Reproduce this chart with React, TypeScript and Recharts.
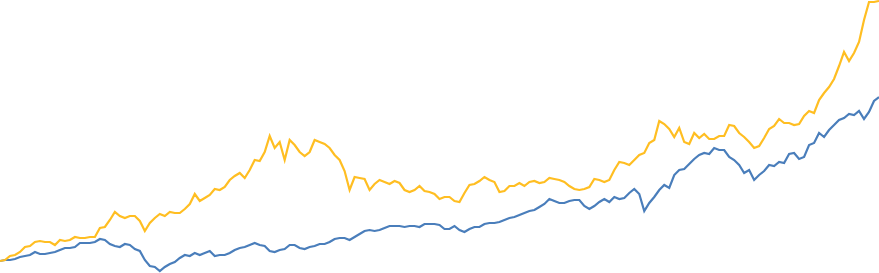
import React from "react";
import { LineChart, Line, XAxis, YAxis } from "recharts";

// Cumulative growth (%) of two series
const seriesA: number[] = [
  0, 1, 5, 6, 9, 14, 15, 19, 20, 19,
  19, 16, 21, 20, 21, 24, 23, 23, 24, 24,
  33, 34, 41, 49, 45, 43, 45, 45, 40, 30,
  38, 43, 47, 45, 49, 48, 48, 52, 57, 67,
  60, 63, 66, 72, 71, 74, 81, 85, 88, 83,
  91, 101, 100, 109, 125, 113, 119, 101, 121, 116,
  109, 105, 109, 121, 119, 117, 113, 106, 101, 90,
  71, 84, 83, 82, 71, 77, 81, 79, 77, 80,
  78, 71, 69, 71, 75, 70, 69, 67, 62, 64,
  64, 60, 59, 68, 76, 77, 80, 84, 81, 79,
  69, 70, 75, 75, 78, 75, 79, 80, 78, 79,
  83, 82, 81, 79, 75, 72, 71, 72, 74, 82,
  81, 79, 81, 91, 99, 98, 96, 101, 106, 108,
  118, 121, 140, 137, 132, 124, 133, 119, 117, 128,
  123, 127, 122, 122, 125, 125, 136, 135, 128, 124,
  119, 113, 115, 123, 132, 135, 142, 138, 138, 136,
  137, 145, 150, 148, 161, 168, 174, 182, 195, 209,
  200, 208, 219, 241, 259, 259, 260,
];

const seriesB: number[] = [
  0, 1, 1, 2, 4, 5, 6, 9, 7, 7,
  8, 9, 11, 13, 13, 14, 18, 18, 18, 19,
  22, 21, 17, 15, 14, 17, 16, 12, 10, 1,
  -5, -6, -10, -6, -3, -1, 3, 6, 5, 8,
  6, 8, 10, 5, 6, 6, 8, 11, 13, 14,
  16, 18, 16, 15, 10, 9, 11, 12, 16, 16,
  13, 12, 14, 15, 17, 17, 19, 22, 23, 23,
  21, 24, 27, 30, 31, 30, 31, 33, 35, 35,
  35, 34, 35, 35, 34, 37, 37, 37, 36, 32,
  32, 35, 31, 29, 32, 34, 34, 37, 38, 38,
  39, 41, 43, 44, 46, 48, 50, 51, 54, 57,
  62, 60, 58, 58, 60, 61, 61, 55, 52, 55,
  59, 62, 59, 64, 62, 63, 68, 72, 67, 50,
  58, 64, 71, 76, 73, 86, 91, 92, 97, 102,
  106, 108, 107, 113, 111, 111, 104, 101, 96, 88,
  91, 81, 86, 90, 96, 95, 99, 98, 107, 108,
  102, 104, 116, 118, 128, 124, 131, 136, 141, 143,
  147, 146, 150, 142, 149, 160, 164,
];

const periods: string[] = seriesA.map((_, i) => `P${i + 1}`);

const data = periods.map((p, i) => ({ period: p, a: seriesA[i], b: seriesB[i] }));

export default function App() {
  return (
    <div style={{ position: "absolute", left: 0, top: 0, width: 879, height: 273, background: "#ffffff" }}>
      <LineChart width={879} height={273} data={data} margin={{ top: 0, right: 0, bottom: 0, left: 0 }}>
        <XAxis dataKey="period" hide padding={{ left: 0, right: 0 }} />
        <YAxis hide domain={[-12, 261]} />
        <Line type="linear" dataKey="b" stroke="#4A7EBB" strokeWidth={2.2} dot={false} activeDot={false} isAnimationActive={false} />
        <Line type="linear" dataKey="a" stroke="#FFBE22" strokeWidth={2.2} dot={false} activeDot={false} isAnimationActive={false} />
      </LineChart>
    </div>
  );
}
